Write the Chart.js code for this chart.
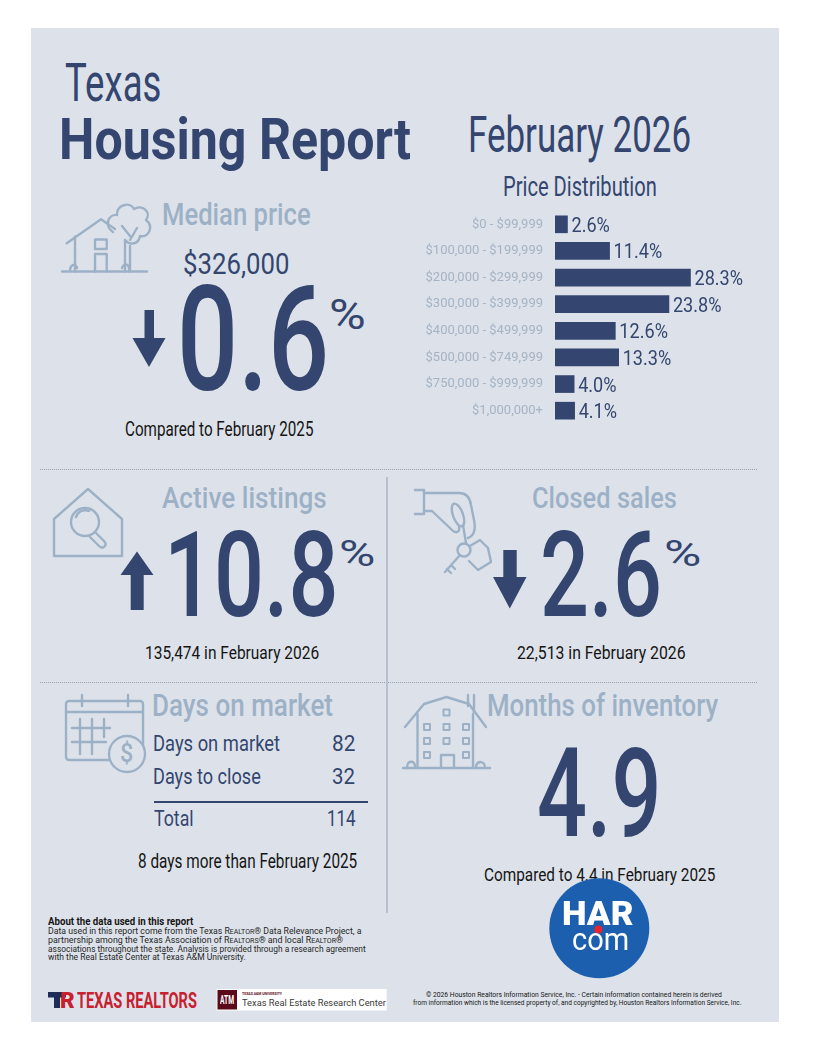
<!DOCTYPE html>
<html>
<head>
<meta charset="utf-8">
<script src="https://cdn.jsdelivr.net/npm/chart.js@4.4.1/dist/chart.umd.min.js"></script>
<style>
  html, body { margin: 0; padding: 0; background: #fff; }
  #page { position: relative; width: 813px; height: 1053px; overflow: hidden; }
  #card { position: absolute; left: 31px; top: 28px; width: 748px; height: 994px; background: #dde2ea; }
  .t { position: absolute; white-space: nowrap; transform-origin: 0 0; z-index: 2; }
  #chartBox { position: absolute; left: 400px; top: 211px; width: 380px; height: 213px; z-index: 2; }
  .dots { position: absolute; left: 40px; width: 717px; height: 0; border-top: 1px dotted #97a1b1; }
  svg { position: absolute; left: 0; top: 0; }
</style>
</head>
<body>
<div id="page">
  <div id="card"></div>
  <div class="dots" style="top:469px"></div>
  <div class="dots" style="top:682px"></div>
  <div style="position:absolute;left:386px;top:477px;width:1.5px;height:436px;background:#b7c0cc"></div>
  <div style="position:absolute;left:153.5px;top:801px;width:214px;height:2px;background:#34466f"></div>

  <svg width="813" height="1053" style="z-index:1">
    <g fill="none" stroke="#9db1c6" stroke-width="2.4" stroke-linejoin="round" stroke-linecap="round">
      <!-- house + tree -->
      <path d="M62 271.5 H147"/>
      <path d="M66.7 243.3 L101 219.3 L115 229"/>
      <path d="M75 236.5 V271.5 M125 240 V271.5"/>
      <path d="M95 239.5 H106.7 V249 H95 Z M95 254 H106.7 V271.5 M95 254 V271.5"/>
      <path d="M113 232 C104 226 108 214 117 215 C116 205 130 201 134 209 C142 204 152 212 146 220 C154 226 149 238 140 236 C139 244 130 246 125 240"/>
      <path d="M130 246 V271.5 M130 236 L122 226 M130 240 L137 228"/>
      <path d="M70 271 C70 264 76 263 77 268 M122 268 C124 262 130 264 129 271"/>
      <!-- house + magnifier -->
      <path d="M54 556 V519 L88 489 L122 519 V556 Z"/>
      <circle cx="85" cy="522" r="14"/>
      <path d="M76 517 C78 511 84 509 89 511"/>
      <path d="M95 532 L104 541 C108 545 103 550 99 546 L90 537"/>
      <!-- hand with keys -->
      <path d="M415 490 H424 V514 H415"/>
      <path d="M424 493 H459 C466 493 470 498 471 505 L474 520 C476 530 474 536 468 538"/>
      <path d="M424 511 H432 L452 530 C456 534 460 532 459 527"/>
      <ellipse cx="458" cy="515" rx="5" ry="12" transform="rotate(-20 458 515)"/>
      <path d="M463 525 L466 543"/>
      <circle cx="464" cy="550" r="6.5"/>
      <path d="M460 555 L445 572 M451 565 L455 569 M447 569 L451 573"/>
      <path d="M470 546 L480 540 L488 548 L491 562 L478 570 L469 561"/>
      <!-- calendar -->
      <rect x="66" y="701" width="77" height="59" rx="3"/>
      <path d="M66 712 H143 M82 695 V706 M128 695 V706"/>
      <path d="M72 728 H110 M72 742 H106 M80 719 V754 M92 719 V754 M104 719 V737"/>
      <circle cx="127" cy="754" r="18" fill="#dde2ea"/>
      <!-- building -->
      <path d="M403 768 H490"/>
      <path d="M405 727 L424 704 L446.5 697 L469 704 L486 727"/>
      <path d="M468 695 V706 M474 695 V712"/>
      <path d="M417.5 714 V768 M473 714 V768"/>
      <path d="M441 768 V755 H454 V768"/>
      <g stroke-width="2">
        <rect x="443.5" y="709.5" width="6" height="6"/>
        <rect x="424" y="724" width="6" height="6"/><rect x="443.5" y="724" width="6" height="6"/><rect x="463" y="724" width="6" height="6"/>
        <rect x="424" y="738" width="6" height="6"/><rect x="443.5" y="738" width="6" height="6"/><rect x="463" y="738" width="6" height="6"/>
        <rect x="424" y="752" width="6" height="6"/><rect x="463" y="752" width="6" height="6"/>
      </g>
      <path d="M407 768 C407 760 414 760 415 766 M476 766 C478 760 485 761 485 768"/>
    </g>
    <!-- arrows -->
    <g fill="#34466f">
      <rect x="144.5" y="310" width="9.5" height="30"/>
      <polygon points="132.5,338 165.5,338 149,367"/>
      <polygon points="120.5,575 153.5,575 137,551.5"/>
      <rect x="130.7" y="573" width="13" height="37"/>
      <rect x="503.3" y="550" width="13.4" height="29"/>
      <polygon points="493,577 526.5,577 509.8,608.5"/>
    </g>
    <!-- footer logos -->
    <rect x="216.7" y="989" width="170" height="21.5" fill="#ffffff"/>
    <rect x="217.5" y="990" width="19.5" height="19.5" fill="#5b0a1a"/>
    <path d="M48 992 H66 V997.5 H60 V1008 H54 V997.5 H48 Z" fill="#1c2d5a"/>
  </svg>

  <svg width="813" height="1053" style="z-index:3">
    <circle cx="599.3" cy="928.3" r="50" fill="#1b5fae"/>
    <circle cx="598.3" cy="929.5" r="4" fill="#e8242f"/>
  </svg>

  <div id="chartBox"><canvas id="priceChart" width="380" height="213"></canvas></div>
</div>

<script>
// price distribution data
const priceRanges = ['$0 - $99,999', '$100,000 - $199,999', '$200,000 - $299,999', '$300,000 - $399,999',
                     '$400,000 - $499,999', '$500,000 - $749,999', '$750,000 - $999,999', '$1,000,000+'];
const shareOfSales = [2.6, 11.4, 28.3, 23.8, 12.6, 13.3, 4.0, 4.1];

const NAVY = '#34466f';
const LIGHT = '#9db1c6';
const INK = '#151515';

const page = document.getElementById('page');
const mctx = document.createElement('canvas').getContext('2d');

// place text so its ink box fits x,y (cap top), width w, cap height h
function put(s, x, y, w, h, color, weight, opt = {}) {
  const fam = opt.fam || 'Roboto';
  const r = opt.xh ? 0.528 : 0.711;
  const F = h / r;
  const L = r + 0.02; // tight line box around the caps
  const el = document.createElement('div');
  el.className = 't';
  el.style.fontFamily = fam;
  el.style.fontSize = F + 'px';
  el.style.lineHeight = L;
  el.style.fontWeight = weight;
  el.style.color = color;
  if (opt.z) el.style.zIndex = opt.z;
  if (opt.html) el.innerHTML = s; else el.textContent = s;
  page.appendChild(el);
  let inkL = 0, inkW;
  if (opt.html) {
    inkW = el.getBoundingClientRect().width;
  } else {
    mctx.font = weight + ' ' + F + 'px ' + fam;
    const m = mctx.measureText(s);
    inkL = m.actualBoundingBoxLeft;
    inkW = m.actualBoundingBoxLeft + m.actualBoundingBoxRight;
  }
  const k = w / inkW;
  const baseOff = ((L - 1.1718) / 2 + 0.9277) * F;
  el.style.left = (x + inkL * k) + 'px';
  el.style.top = (y + h - baseOff) + 'px';
  el.style.transform = 'scaleX(' + k + ')';
}

// header
put('Texas', 66, 63, 94, 38, NAVY, 400);
put('Housing Report', 62, 119, 349, 41, NAVY, 700);
put('February 2026', 471, 118.3, 219, 35, NAVY, 400);
put('Price Distribution', 505, 178.3, 151, 19, NAVY, 400);

// median price
put('Median price', 163.3, 203.3, 147, 22.7, LIGHT, 500);
put('$326,000', 184, 252.7, 105, 21.3, NAVY, 400);
put('0.6', 181.7, 286, 143.3, 104, NAVY, 500);
put('%', 331.7, 300, 33.3, 30, NAVY, 400);
put('Compared to February 2025', 125.7, 423.3, 187.6, 14, INK, 400);

// active listings
put('Active listings', 161.7, 487.5, 163.7, 21, LIGHT, 500);
put('10.8', 170.4, 531.7, 163.6, 85, NAVY, 500);
put('%', 340, 540, 33, 26.7, NAVY, 400);
put('135,474 in February 2026', 146.2, 646, 172.8, 13.5, INK, 400);

// closed sales
put('Closed sales', 533, 487.5, 143, 21, LIGHT, 500);
put('2.6', 543.3, 531.7, 116.2, 85, NAVY, 500);
put('%', 665.8, 540, 33.9, 26.7, NAVY, 400);
put('22,513 in February 2026', 516.7, 646, 168, 13.5, INK, 400);

// days on market
put('Days on market', 153.5, 695, 179.2, 21.7, LIGHT, 500);
put('Days on market', 153.5, 735, 125.9, 16, NAVY, 400);
put('82', 332.7, 735, 21.8, 16, NAVY, 400);
put('Days to close', 153.5, 769.3, 106.5, 15.5, NAVY, 400);
put('32', 332.7, 769.3, 21.8, 15.5, NAVY, 400);
put('Total', 153.5, 811, 38.5, 15.7, NAVY, 400);
put('114', 327.8, 811, 27.6, 15.7, NAVY, 400);
put('8 days more than February 2025', 139, 855.3, 218.4, 14, INK, 400);

// months of inventory
put('Months of inventory', 489, 695, 229.6, 21.7, LIGHT, 500);
put('4.9', 539.4, 748.3, 117.6, 88.4, NAVY, 500);
put('Compared to 4.4 in February 2025', 485, 869.3, 230, 13.4, INK, 400);
put('$', 121, 745, 12, 18, LIGHT, 500, { z: 1 });

// HAR logo
put('HAR', 562.7, 902.7, 70, 23.3, '#ffffff', 900, { z: 4 });
put('com', 572.7, 934, 54.6, 16.7, '#ffffff', 400, { z: 4, xh: true });

// footer
const FT = '#262626';
put('About the data used in this report', 48.3, 918.3, 145.7, 7.4, INK, 700);
put('Data used in this report come from the Texas R<span style="font-size:80%">EALTOR</span>® Data Relevance Project, a', 48.3, 928.3, 313.4, 6.6, FT, 400, { html: true });
put('partnership among the Texas Association of R<span style="font-size:80%">EALTORS</span>® and local R<span style="font-size:80%">EALTOR</span>®', 48.3, 936.9, 295, 6.6, FT, 400, { html: true });
put('associations throughout the state. Analysis is provided through a research agreement', 48.3, 945.5, 317.7, 6.6, FT, 400);
put('with the Real Estate Center at Texas A&amp;M University.', 48.3, 954.1, 197.7, 6.6, FT, 400, { html: true });
put('R', 61, 992, 14, 16, '#c8202f', 900);
put('TEXAS REALTORS', 77, 992, 120, 16, '#c8202f', 700);
put('ATM', 220, 995, 14, 9, '#ffffff', 700);
put('TEXAS A&amp;M UNIVERSITY', 242, 991.5, 40, 3, '#5b0a1a', 700, { html: true });
put('Texas Real Estate Research Center', 242, 999, 144.5, 7, '#3a3a3a', 400);
put('© 2026 Houston Realtors Information Service, Inc. - Certain information contained herein is derived', 426, 992.3, 295.5, 5.5, INK, 400);
put('from information which is the licensed property of, and copyrighted by, Houston Realtors Information Service, Inc.', 412.6, 1000.3, 328.4, 5.5, INK, 400);

// narrow font for tick labels if the system has one
function hasFont(name) {
  const c = document.createElement('canvas').getContext('2d');
  c.font = '20px monospace';
  const a = c.measureText('$200,000 - $299,999 abc').width;
  c.font = '20px "' + name + '", monospace';
  const b = c.measureText('$200,000 - $299,999 abc').width;
  return a !== b;
}
const tickFont = hasFont('Liberation Sans Narrow')
  ? { family: '"Liberation Sans Narrow"', size: 15.5 }
  : { family: 'Roboto', size: 13 };

// percentage labels after each bar
const valueLabels = {
  id: 'valueLabels',
  afterDatasetsDraw(chart) {
    const ctx = chart.ctx;
    const meta = chart.getDatasetMeta(0);
    ctx.save();
    ctx.fillStyle = NAVY;
    ctx.font = '400 19.7px Roboto';
    ctx.textBaseline = 'alphabetic';
    meta.data.forEach((bar, i) => {
      ctx.save();
      ctx.translate(bar.x + 4, bar.y + 7.5);
      ctx.scale(0.92, 1);
      ctx.fillText(shareOfSales[i].toFixed(1) + '%', 0, 0);
      ctx.restore();
    });
    ctx.restore();
  }
};

const ctx = document.getElementById('priceChart').getContext('2d');
const priceChart = new Chart(ctx, {
  type: 'bar',
  data: {
    labels: priceRanges,
    datasets: [{
      data: shareOfSales,
      backgroundColor: NAVY,
      borderWidth: 0,
      barThickness: 17
    }]
  },
  options: {
    indexAxis: 'y',
    responsive: false,
    animation: false,
    layout: { padding: 0 },
    plugins: { legend: { display: false }, tooltip: { enabled: false } },
    scales: {
      x: { display: false, min: 0, max: 47 },
      y: {
        afterFit(scale) {
          scale.width = 155;
          scale.paddingTop = 0;
          scale.paddingBottom = 0;
        },
        grid: { display: false, drawTicks: false },
        border: { display: false },
        ticks: { color: '#a5b3c5', font: tickFont, padding: 12 }
      }
    }
  },
  plugins: [valueLabels]
});
</script>
</body>
</html>
